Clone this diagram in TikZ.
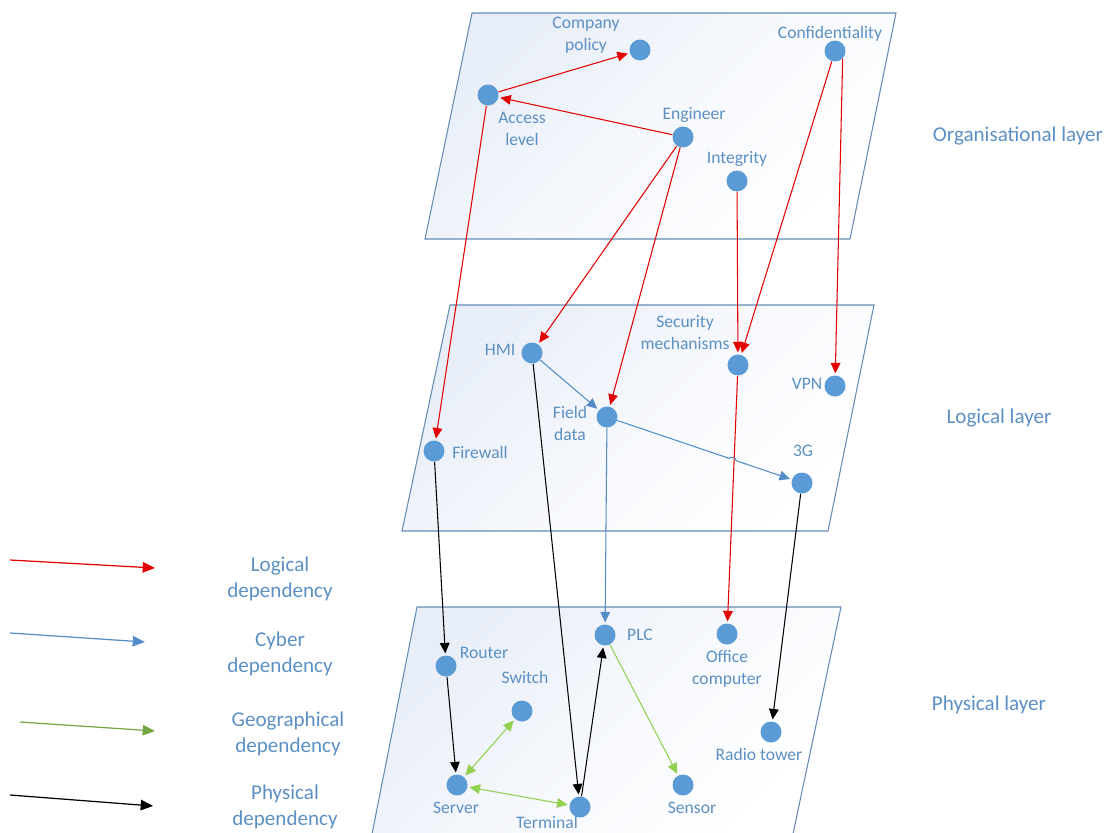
\documentclass[tikz,border=0pt]{standalone}
\usepackage{fontspec}
\setmainfont{Carlito}
\usetikzlibrary{arrows.meta,calc}
\definecolor{txtblue}{RGB}{92,144,196}
\definecolor{dotblue}{RGB}{91,155,213}
\definecolor{edgeblue}{RGB}{100,140,180}
\definecolor{planeblue}{RGB}{232,238,248}
\definecolor{cyberblue}{RGB}{84,141,200}
\definecolor{geogreen}{RGB}{146,208,80}
\definecolor{logred}{RGB}{228,0,0}

\begin{document}
\begin{tikzpicture}[x=0.02cm,y=-0.02cm,
  dot/.style={circle,fill=dotblue,minimum size=0.42cm,inner sep=0pt},
  lbl/.style={text=txtblue,font=\fontsize{10}{12.5}\selectfont,align=center,inner sep=0pt},
  layerlbl/.style={text=txtblue,font=\fontsize{12}{14.5}\selectfont,inner sep=0pt},
  legendlbl/.style={text=txtblue,font=\fontsize{12}{14.7}\selectfont,align=center,inner sep=0pt},
  plane/.style={draw=edgeblue,line width=0.6pt,top color=planeblue,bottom color=white,middle color=planeblue!40!white,shading angle=45},
  dep/.style={line width=0.6pt,-{Triangle[length=6pt,width=5.5pt]},shorten >=1pt},
  logical/.style={dep,draw=logred},
  cyber/.style={dep,draw=cyberblue},
  physical/.style={dep,draw=black},
  geo/.style={dep,draw=geogreen},
  geoboth/.style={geo,{Triangle[length=6pt,width=5.5pt]}-{Triangle[length=6pt,width=5.5pt]},shorten <=1pt},
  legarrow/.style={line width=0.7pt,-{Triangle[length=7pt,width=6pt]}}
]
\useasboundingbox (0,0) rectangle (1109,832);

% three layers
\path[plane] (472,13) -- (896,13) -- (850,239) -- (425,239) -- cycle;
\path[plane] (450,305) -- (874,305) -- (828,531) -- (402,531) -- cycle;
\begin{scope}
\clip (0,0) rectangle (1109,832);
\path[plane] (417,607) -- (841,607) -- (793,834) -- (372,834) -- cycle;
\end{scope}

% organisational layer
\node[dot] (cp) at (640,50) {};
\node[dot] (acc) at (488,95) {};
\node[dot] (eng) at (683,137) {};
\node[dot] (integ) at (737,181) {};
\node[dot] (conf) at (835,51) {};
\node[lbl] (cp-t) at (586,35) {Company\\policy};
\node[lbl] (acc-t) at (522,128.5) {Access\\level};
\node[lbl] (eng-t) at (694,115) {Engineer};
\node[lbl] (integ-t) at (737,159) {Integrity};
\node[lbl] (conf-t) at (830,34) {Confidentiality};

% logical layer
\node[dot] (hmi) at (532,353) {};
\node[dot] (sec) at (738,365) {};
\node[dot] (vpn) at (835,386) {};
\node[dot] (fd) at (607,417) {};
\node[dot] (fw) at (434,451) {};
\node[dot] (g3) at (802,483) {};
\node[lbl] (hmi-t) at (500,350) {HMI};
\node[lbl] (sec-t) at (685,332.5) {Security\\mechanisms};
\node[lbl] (vpn-t) at (807,384) {VPN};
\node[lbl] (fd-t) at (570,423.5) {Field\\data};
\node[lbl] (fw-t) at (480,452) {Firewall};
\node[lbl] (g3-t) at (803,451) {3G};

% physical layer
\node[dot] (plc) at (605,635) {};
\node[dot] (off) at (727,634) {};
\node[dot] (rt) at (446,666) {};
\node[dot] (sw) at (522,711) {};
\node[dot] (radio) at (771,732) {};
\node[dot] (srv) at (457,785) {};
\node[dot] (sens) at (683,785) {};
\node[dot] (term) at (580,807) {};
\node[lbl] (plc-t) at (640,635) {PLC};
\node[lbl] (off-t) at (727,669) {Office\\computer};
\node[lbl] (rt-t) at (484,653) {Router};
\node[lbl] (sw-t) at (525,677) {Switch};
\node[lbl] (radio-t) at (759,754) {Radio tower};
\node[lbl] (srv-t) at (456,808) {Server};
\node[lbl] (sens-t) at (692,808) {Sensor};
\node[lbl] (term-t) at (547,822) {Terminal};

% layer names
\node[layerlbl] (org-l) at (1018,136) {Organisational layer};
\node[layerlbl] (log-l) at (999,418) {Logical layer};
\node[layerlbl] (phy-l) at (989,705) {Physical layer};

% logical dependencies
\draw[logical] (acc) -- (cp);
\draw[logical] (eng) -- (acc);
\draw[logical] (eng) -- (hmi);
\draw[logical] (eng) -- (fd);
\draw[logical] (acc) -- (fw);
\draw[logical] (integ) -- (sec);
\draw[logical] (conf) -- (sec);
\draw[logical] (conf.south east) -- (vpn);
\draw[logical] (sec) -- (off);

% cyber dependencies
\draw[cyber] (hmi) -- (fd);
\draw[cyber] (fd) -- ($(fd)!0.628!(g3)$) to[bend left=90] ($(fd)!0.662!(g3)$) -- (g3);
\draw[cyber] (fd) -- (plc);

% physical dependencies
\draw[physical] (fw) -- (rt);
\draw[physical] (rt) -- (srv);
\draw[physical] (hmi) -- (term);
\draw[physical] (term) -- (plc);
\draw[physical] (g3) -- (radio);

% geographical dependencies
\draw[geoboth] (srv) -- (sw);
\draw[geoboth] (srv) -- (term);
\draw[geo] (plc) -- (sens);

% legend
\coordinate (lr-a) at (10,560);  \coordinate (lr-b) at (155,568);
\coordinate (lc-a) at (10,633);  \coordinate (lc-b) at (145,642);
\coordinate (lg-a) at (20,722);  \coordinate (lg-b) at (155,731);
\coordinate (lp-a) at (10,795);  \coordinate (lp-b) at (153,806);
\draw[legarrow,logred] (lr-a) -- (lr-b);
\draw[legarrow,cyberblue] (lc-a) -- (lc-b);
\draw[legarrow,geogreen!80!black] (lg-a) -- (lg-b);
\draw[legarrow,black] (lp-a) -- (lp-b);
\node[legendlbl] (leg-log) at (280,579) {Logical\\dependency};
\node[legendlbl] (leg-cyb) at (280,654) {Cyber\\dependency};
\node[legendlbl] (leg-geo) at (288,734) {Geographical\\dependency};
\node[legendlbl] (leg-phy) at (285,807) {Physical\\dependency};
\end{tikzpicture}
\end{document}
